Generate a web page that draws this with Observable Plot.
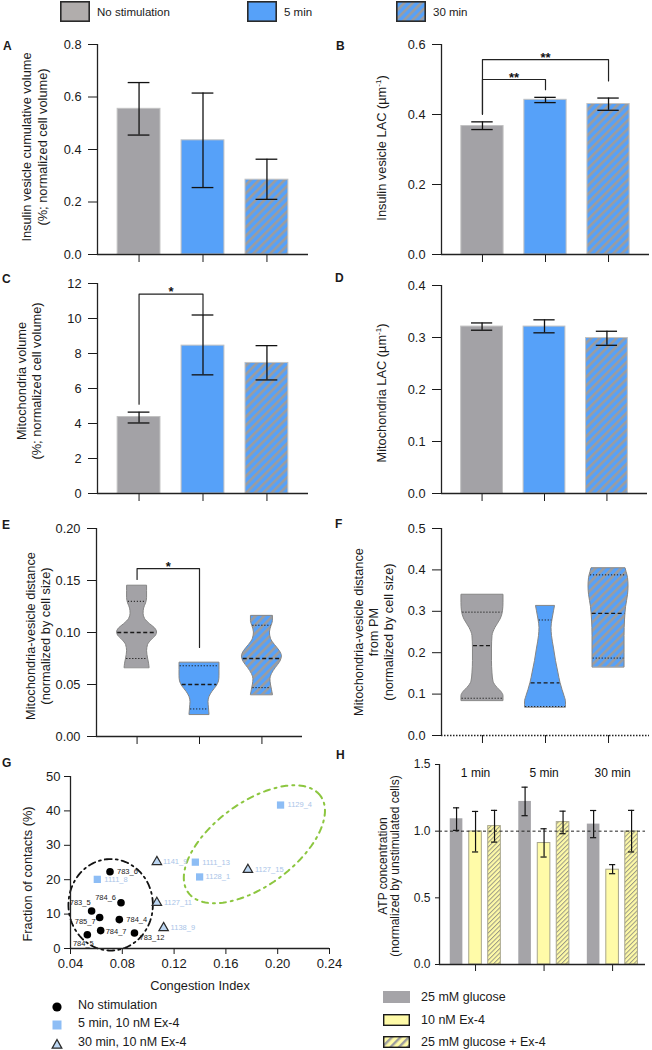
<!DOCTYPE html>
<html>
<head>
<meta charset="utf-8">
<script src="https://cdn.jsdelivr.net/npm/d3@7"></script>
<script src="https://cdn.jsdelivr.net/npm/@observablehq/plot@0.6"></script>
<style>
  body { margin: 0; background: #fff; font-family: "Liberation Sans", Arial, Helvetica, sans-serif; color: #1a1a1a; }
  #fig { position: relative; width: 652px; height: 1050px; overflow: hidden; background: #fff; }
  .ytitle { position: absolute; transform: translate(-50%, -50%) rotate(-90deg); white-space: nowrap; text-align: center; font-size: 12.8px; line-height: 15px; }
  .letter { position: absolute; font-weight: bold; font-size: 12px; line-height: 12px; }
  .txt { position: absolute; white-space: nowrap; line-height: 14px; transform: translateY(-50%); }
  .sw { position: absolute; }
</style>
</head>
<body>
<svg width="0" height="0" style="position:absolute">
  <defs>
    <pattern id="hatchBlue" patternUnits="userSpaceOnUse" width="6" height="6" patternTransform="rotate(45)">
      <rect width="6" height="6" fill="#56a1f9"></rect>
      <rect width="2.6" height="6" fill="#9c9c9e"></rect>
    </pattern>
    <pattern id="hatchYellow" patternUnits="userSpaceOnUse" width="3.2" height="3.2" patternTransform="rotate(45)">
      <rect width="3.2" height="3.2" fill="#fffba8"></rect>
      <rect width="1" height="3.2" fill="#9a9886"></rect>
    </pattern>
    <pattern id="hatchYellowLegend" patternUnits="userSpaceOnUse" width="6" height="6" patternTransform="rotate(45)">
      <rect width="6" height="6" fill="#fffba8"></rect>
      <rect width="2.4" height="6" fill="#9c9c9e"></rect>
    </pattern>
  </defs>
</svg>
<div id="fig"></div>
<script>
// ---------------- DATA ----------------
const groups = ["No stimulation", "5 min", "30 min"];

// A: insulin vesicle cumulative volume (% of cell volume)
const insulinVolMean = [0.555, 0.435, 0.285];
const insulinVolLow  = [0.455, 0.255, 0.210];
const insulinVolHigh = [0.655, 0.615, 0.363];

// B: insulin vesicle LAC (µm-1)
const insulinLacMean = [0.367, 0.442, 0.430];
const insulinLacLow  = [0.357, 0.434, 0.412];
const insulinLacHigh = [0.379, 0.449, 0.447];

// C: mitochondria volume (% of cell volume)
const mitoVolMean = [4.37, 8.45, 7.46];
const mitoVolLow  = [4.03, 6.78, 6.49];
const mitoVolHigh = [4.65, 10.20, 8.45];

// D: mitochondria LAC (µm-1)
const mitoLacMean = [0.321, 0.321, 0.299];
const mitoLacLow  = [0.314, 0.309, 0.285];
const mitoLacHigh = [0.328, 0.334, 0.312];

// significance brackets (category indices, y values)
const sigB = [
  {from: 0, to: 2, top: 0.557, leftEnd: 0.401, rightEnd: 0.496, label: "**"},
  {from: 0, to: 1, top: 0.500, leftEnd: 0.401, rightEnd: 0.471, label: "**"}
];
const sigC = [{from: 0, to: 1, top: 11.39, leftEnd: 5.10, rightEnd: 10.25, label: "*"}];
const sigE = [{from: 0, to: 1, top: 0.1615, leftEnd: 0.151, rightEnd: 0.0856, label: "*"}];

// E: mitochondria-vesicle distance, violin profiles (value, density)
const distE_noStimY  = [0.066, 0.070, 0.075, 0.082, 0.088, 0.093, 0.097, 0.100, 0.104, 0.108, 0.113, 0.118, 0.123, 0.128, 0.133, 0.140, 0.145];
const distE_noStimD  = [12.5, 12, 11, 10, 11, 15, 19, 20, 18, 13, 8, 6.5, 7, 9, 10, 10, 10];
const distE_min5Y    = [0.021, 0.027, 0.033, 0.038, 0.043, 0.048, 0.053, 0.058, 0.064, 0.071];
const distE_min5D    = [10, 9.5, 9, 10, 13, 17, 19.5, 20, 20, 20];
const distE_min30Y   = [0.040, 0.045, 0.050, 0.055, 0.060, 0.066, 0.072, 0.077, 0.082, 0.088, 0.094, 0.100, 0.106, 0.111, 0.116];
const distE_min30D   = [11, 10, 9, 8.5, 10, 14, 18.5, 20, 18, 13, 9, 8, 9.5, 11, 11];
const distE_q1     = [0.075, 0.0265, 0.047];
const distE_median = [0.100, 0.050, 0.075];
const distE_q3     = [0.130, 0.068, 0.107];

// F: mitochondria-vesicle distance from PM, violin profiles
const distF_noStimY  = [0.084, 0.095, 0.105, 0.115, 0.13, 0.15, 0.18, 0.21, 0.24, 0.26, 0.28, 0.30, 0.32, 0.34];
const distF_noStimD  = [21, 21, 19, 15, 11, 10, 9.5, 9.5, 10, 13, 18, 20.5, 21, 21];
const distF_min5Y    = [0.068, 0.08, 0.095, 0.11, 0.127, 0.15, 0.18, 0.21, 0.24, 0.26, 0.28, 0.30, 0.313];
const distF_min5D    = [20.5, 20.5, 19, 17, 15, 13, 10.5, 8.5, 6.5, 6, 7, 8.5, 9.5];
const distF_min30Y   = [0.165, 0.20, 0.24, 0.28, 0.31, 0.34, 0.36, 0.38, 0.395, 0.404];
const distF_min30D   = [16, 16, 16, 16.5, 17.5, 19.5, 20, 19.5, 18, 17];
const distF_q1     = [0.090, 0.070, 0.187];
const distF_median = [0.217, 0.127, 0.295];
const distF_q3     = [0.298, 0.279, 0.388];

// G: congestion index vs fraction of contacts
const noStimIds      = ["783_6", "784_6", "783_5", "785_7", "784_4", "784_7", "784_5", "783_12"];
const noStimCI       = [0.0705, 0.0790, 0.0563, 0.0625, 0.0777, 0.0633, 0.0530, 0.0894];
const noStimContacts = [22.3, 13.3, 10.9, 9.0, 8.4, 5.2, 4.0, 4.5];
const min5Ids        = ["1111_8", "1111_13", "1128_1", "1129_4"];
const min5CI         = [0.0607, 0.1364, 0.1397, 0.2022];
const min5Contacts   = [20.1, 25.1, 20.8, 41.7];
const min30Ids       = ["1141_9", "1127_11", "1138_9", "1127_15"];
const min30CI        = [0.1067, 0.1067, 0.1119, 0.1770];
const min30Contacts  = [25.2, 13.3, 6.0, 22.9];
// cluster ellipses (centre and conjugate semi-axes, data units)
const clusterNoStim = {cx: 0.071, cy: 12.7, a: [0.0326, 0], b: [0, 13.3]};
const clusterStim   = {cx: 0.182, cy: 30.3, a: [0.0509, 14.15], b: [-0.0195, 9.69]};

// H: ATP concentration
const atpTimes = ["1 min", "5 min", "30 min"];
const atpConditions = ["25 mM glucose", "10 nM Ex-4", "25 mM glucose + Ex-4"];
const atpGlucoseMean = [1.093, 1.223, 1.053];
const atpGlucoseLow  = [1.006, 1.116, 0.951];
const atpGlucoseHigh = [1.175, 1.330, 1.155];
const atpEx4Mean     = [0.998, 0.911, 0.711];
const atpEx4Low      = [0.844, 0.806, 0.681];
const atpEx4High     = [1.148, 1.018, 0.749];
const atpBothMean    = [1.038, 1.068, 0.998];
const atpBothLow     = [0.918, 0.981, 0.844];
const atpBothHigh    = [1.156, 1.150, 1.156];

// ---------------- STYLE / HELPERS ----------------
const FONT = "'Liberation Sans', Arial, Helvetica, sans-serif";
const fig = document.getElementById("fig");
const groupFills = ["#a3a2a6", "#56a1f9", "url(#hatchBlue)"];
const BAR_HALF = 0.335, CAP_HALF = 0.17;
const XDOM = [-0.65, 2.65];
const blank = () => "";

function place(el, left, top) {
  el.style.position = "absolute"; el.style.left = left + "px"; el.style.top = top + "px";
  fig.appendChild(el);
  return el;
}
function html(cls, content, left, top, extra) {
  const d = document.createElement("div");
  d.className = cls; d.innerHTML = content;
  d.style.left = left + "px"; d.style.top = top + "px";
  if (extra) Object.assign(d.style, extra);
  fig.appendChild(d);
  return d;
}
function panel(cfg, marks) {
  const svg = Plot.plot({
    width: cfg.w, height: cfg.h,
    marginLeft: cfg.ml, marginRight: cfg.mr, marginTop: cfg.mt, marginBottom: cfg.mb,
    style: {background: "transparent", fontFamily: FONT, fontSize: (cfg.fs || 12.8) + "px", color: "#1a1a1a", overflow: "visible"},
    x: {type: "linear", domain: cfg.xDomain || XDOM, ticks: cfg.xTicks || [0, 1, 2], tickFormat: cfg.xFormat || blank,
        tickSize: cfg.xTickSize ?? 8, tickPadding: cfg.xTickPadding ?? 3, label: null},
    y: {type: "linear", domain: cfg.yDomain, ticks: cfg.yTicks, tickFormat: cfg.yFormat,
        tickSize: cfg.yTickSize ?? 9, tickPadding: cfg.yTickPadding ?? 7, label: null},
    marks
  });
  return place(svg, cfg.left, cfg.top);
}
function axisLines(xDom, y0, xDash) {
  return [
    Plot.ruleX([xDom[0]], {stroke: "#222", strokeWidth: 1.3}),
    Plot.ruleY([y0], {stroke: "#222", strokeWidth: 1.3, strokeDasharray: xDash || null})
  ];
}
function barMarks(mean, low, high) {
  const rows = groups.map((g, i) => ({i, g, mean: mean[i], low: low[i], high: high[i]}));
  const marks = [];
  rows.forEach(r => {
    marks.push(Plot.rect([r], {x1: d => d.i - BAR_HALF, x2: d => d.i + BAR_HALF, y1: 0, y2: "mean",
      fill: groupFills[r.i], stroke: "#c2c2c2", strokeWidth: 1}));
  });
  marks.push(Plot.ruleX(rows, {x: "i", y1: "low", y2: "high", stroke: "#111", strokeWidth: 1.3}));
  marks.push(Plot.ruleY(rows, {y: "low", x1: d => d.i - CAP_HALF, x2: d => d.i + CAP_HALF, stroke: "#111", strokeWidth: 1.3}));
  marks.push(Plot.ruleY(rows, {y: "high", x1: d => d.i - CAP_HALF, x2: d => d.i + CAP_HALF, stroke: "#111", strokeWidth: 1.3}));
  return marks;
}
function sigMarks(sig) {
  const marks = [];
  sig.forEach(s => {
    const pts = [{x: s.from, y: s.leftEnd}, {x: s.from, y: s.top}, {x: s.to, y: s.top}, {x: s.to, y: s.rightEnd}];
    marks.push(Plot.line(pts, {x: "x", y: "y", stroke: "#222", strokeWidth: 1.2}));
    marks.push(Plot.text([s], {x: d => (d.from + d.to) / 2, y: "top", text: "label", lineAnchor: "bottom",
      fontWeight: "bold", fontSize: 13, fill: "#111", dy: 2}));
  });
  return marks;
}
function widthAt(ys, ds, y) {
  if (y <= ys[0]) return ds[0];
  for (let j = 1; j < ys.length; j++) {
    if (y <= ys[j]) { const t = (y - ys[j - 1]) / (ys[j] - ys[j - 1]); return ds[j - 1] + t * (ds[j] - ds[j - 1]); }
  }
  return ds[ds.length - 1];
}
function violinMarks(profiles, q1, med, q3, k) {
  const marks = [];
  profiles.forEach(([ys, ds], i) => {
    const rows = ys.map((y, j) => ({y, x1: i - ds[j] * k, x2: i + ds[j] * k}));
    marks.push(Plot.areaX(rows, {y: "y", x1: "x1", x2: "x2", fill: groupFills[i], stroke: "#858585", strokeWidth: 1, curve: "monotone-y"}));
    const q = [[q1[i], "1.2,1.8", 1], [q3[i], "1.2,1.8", 1], [med[i], "4,2.5", 1.4]].map(([y, dash, sw]) => ({y, dash, sw, w: widthAt(ys, ds, y) * k - 0.01}));
    q.forEach(r => marks.push(Plot.ruleY([r], {y: "y", x1: d => i - d.w, x2: d => i + d.w, stroke: "#1a1a1a", strokeWidth: r.sw, strokeDasharray: r.dash})));
  });
  return marks;
}

// ---------------- TOP LEGEND ----------------
function swatchSvg(fill, w, h, stroke, sw) {
  return `<svg width="${w}" height="${h}" style="display:block"><rect x="${sw/2}" y="${sw/2}" width="${w - sw}" height="${h - sw}" fill="${fill}" stroke="${stroke}" stroke-width="${sw}"></rect></svg>`;
}
const topLegendFills = ["#b1adac", "#56a1f9", "url(#hatchBlue)"];
const topLegendX = [60, 247, 396];
groups.forEach((g, i) => {
  html("sw", swatchSvg(topLegendFills[i], 30, 21, "#2a2a2a", 1.6), topLegendX[i], 1);
  html("txt", g, topLegendX[i] + 37, 12, {fontSize: "11.5px"});
});

// ---------------- PANELS ----------------
// A
panel({left: 0, top: 30, w: 326, h: 240, ml: 97, mr: 18, mt: 14, mb: 16,
  yDomain: [0, 0.8], yTicks: [0, 0.2, 0.4, 0.6, 0.8], yFormat: d3.format(".1f")},
  [...barMarks(insulinVolMean, insulinVolLow, insulinVolHigh), ...axisLines(XDOM, 0)]);
// B
panel({left: 326, top: 30, w: 326, h: 240, ml: 115, mr: 3, mt: 14, mb: 16,
  yDomain: [0, 0.6], yTicks: [0, 0.2, 0.4, 0.6], yFormat: d3.format(".1f")},
  [...barMarks(insulinLacMean, insulinLacLow, insulinLacHigh), ...sigMarks(sigB), ...axisLines(XDOM, 0)]);
// C
panel({left: 0, top: 262, w: 326, h: 246, ml: 97, mr: 18, mt: 21, mb: 15,
  yDomain: [0, 12], yTicks: [0, 2, 4, 6, 8, 10, 12], yFormat: d3.format("d")},
  [...barMarks(mitoVolMean, mitoVolLow, mitoVolHigh), ...sigMarks(sigC), ...axisLines(XDOM, 0)]);
// D
panel({left: 326, top: 262, w: 326, h: 246, ml: 115, mr: 5, mt: 23, mb: 15,
  yDomain: [0, 0.4], yTicks: [0, 0.1, 0.2, 0.3, 0.4], yFormat: d3.format(".1f")},
  [...barMarks(mitoLacMean, mitoLacLow, mitoLacHigh), ...axisLines(XDOM, 0)]);
// E
panel({left: 0, top: 505, w: 326, h: 250, ml: 96, mr: 24, mt: 23, mb: 19,
  yDomain: [0, 0.2], yTicks: [0, 0.05, 0.1, 0.15, 0.2], yFormat: d3.format(".2f")},
  [...violinMarks([[distE_noStimY, distE_noStimD], [distE_min5Y, distE_min5D], [distE_min30Y, distE_min30D]],
     distE_q1, distE_median, distE_q3, 1 / 62.5),
   ...sigMarks(sigE), ...axisLines(XDOM, 0)]);
// F
panel({left: 326, top: 505, w: 326, h: 250, ml: 115, mr: 3, mt: 23, mb: 20,
  yDomain: [0, 0.5], yTicks: [0, 0.1, 0.2, 0.3, 0.4, 0.5], yFormat: d3.format(".1f")},
  [...violinMarks([[distF_noStimY, distF_noStimD], [distF_min5Y, distF_min5D], [distF_min30Y, distF_min30D]],
     distF_q1, distF_median, distF_q3, 1 / 63),
   ...axisLines(XDOM, 0, "1.5,1.5")]);

// G
function ellipsePts(e) {
  const pts = [];
  for (let j = 0; j <= 144; j++) {
    const t = j / 144 * 2 * Math.PI;
    pts.push({x: e.cx + Math.cos(t) * e.a[0] + Math.sin(t) * e.b[0], y: e.cy + Math.cos(t) * e.a[1] + Math.sin(t) * e.b[1]});
  }
  return pts;
}
const noStimRows = noStimIds.map((id, i) => ({id, ci: noStimCI[i], c: noStimContacts[i]}));
const min5Rows = min5Ids.map((id, i) => ({id, ci: min5CI[i], c: min5Contacts[i]}));
const min30Rows = min30Ids.map((id, i) => ({id, ci: min30CI[i], c: min30Contacts[i]}));
// label placement [dx, dy, anchor]
const labelPlacement = {
  "783_6": [7, 0, "start"], "784_6": [-5, -5, "end"], "783_5": [-1, -8, "end"], "785_7": [-4, 4, "end"],
  "784_4": [7, 0, "start"], "784_7": [5, 1, "start"], "784_5": [-4, 9, "middle"], "783_12": [5, 4.5, "start"],
  "1111_8": [7, 0, "start"], "1111_13": [7, 0, "start"], "1128_1": [6, 0, "start"], "1129_4": [7, 0, "start"],
  "1141_9": [6, 0, "start"], "1127_11": [7, 0, "start"], "1138_9": [7, 0, "start"], "1127_15": [7, 0, "start"]
};
const labelMarks = [];
[[noStimRows, "#1a1a1a"], [min5Rows, "#a9c4e8"], [min30Rows, "#a9c4e8"]].forEach(([rows, col]) => {
  rows.forEach(r => {
    const [dx, dy, anchor] = labelPlacement[r.id];
    labelMarks.push(Plot.text([r], {x: "ci", y: "c", text: "id", dx, dy, textAnchor: anchor, fill: col, fontSize: 7.5}));
  });
});
panel({left: 0, top: 760, w: 345, h: 240, ml: 70, mr: 16, mt: 16, mb: 52, fs: 13,
  xDomain: [0.04, 0.24], xTicks: [0.04, 0.08, 0.12, 0.16, 0.20, 0.24], xFormat: d3.format(".2f"), xTickSize: 6, xTickPadding: 4,
  yDomain: [0, 50], yTicks: [0, 10, 20, 30, 40, 50], yFormat: d3.format("d"), yTickSize: 6, yTickPadding: 4},
  [
    Plot.line(ellipsePts(clusterNoStim), {x: "x", y: "y", stroke: "#111", strokeWidth: 1.8, strokeDasharray: "7,4,2,4"}),
    Plot.line(ellipsePts(clusterStim), {x: "x", y: "y", stroke: "#8cc63f", strokeWidth: 2, strokeDasharray: "6,5,2,5"}),
    ...labelMarks,
    Plot.dot(noStimRows, {x: "ci", y: "c", r: 3.8, fill: "#000", stroke: "none"}),
    Plot.dot(min5Rows, {x: "ci", y: "c", r: 4.1, symbol: "square", fill: "#8dbdf5", stroke: "none"}),
    Plot.dot(min30Rows, {x: "ci", y: "c", r: 3.5, symbol: "triangle", fill: "#bcd6f2", stroke: "#2a2a2a", strokeWidth: 1.2}),
    ...axisLines([0.04, 0.24], 0)
  ]);

// H
const H_OFF = 0.277, H_HALF = 0.092, H_CAP = 0.045;
const atpSeries = [
  [atpGlucoseMean, atpGlucoseLow, atpGlucoseHigh, "#a5a4a8", "none"],
  [atpEx4Mean, atpEx4Low, atpEx4High, "#fffba8", "#a8a68c"],
  [atpBothMean, atpBothLow, atpBothHigh, "url(#hatchYellow)", "#a8a68c"]
];
const hMarks = [];
atpSeries.forEach(([m, lo, hi, fill, stroke], c) => {
  const rows = atpTimes.map((t, g) => ({x: g + (c - 1) * H_OFF, mean: m[g], low: lo[g], high: hi[g]}));
  hMarks.push(Plot.rect(rows, {x1: d => d.x - H_HALF, x2: d => d.x + H_HALF, y1: 0, y2: "mean", fill, stroke, strokeWidth: 1}));
  hMarks.push(Plot.ruleX(rows, {x: "x", y1: "low", y2: "high", stroke: "#111", strokeWidth: 1.2}));
  hMarks.push(Plot.ruleY(rows, {y: "low", x1: d => d.x - H_CAP, x2: d => d.x + H_CAP, stroke: "#111", strokeWidth: 1.2}));
  hMarks.push(Plot.ruleY(rows, {y: "high", x1: d => d.x - H_CAP, x2: d => d.x + H_CAP, stroke: "#111", strokeWidth: 1.2}));
});
const H_DOM = [-0.526, 2.48];
panel({left: 326, top: 755, w: 326, h: 225, ml: 113, mr: 7, mt: 9, mb: 16, fs: 12,
  xDomain: H_DOM, xTicks: [0, 1, 2], xFormat: blank, xTickSize: 7,
  yDomain: [0, 1.5], yTicks: [0, 0.5, 1, 1.5], yFormat: d3.format(".1f"), yTickSize: 4, yTickPadding: 5},
  [
    ...hMarks,
    Plot.ruleY([1], {stroke: "#222", strokeWidth: 1, strokeDasharray: "3,2.5"}),
    Plot.text(atpTimes, {x: (d, i) => i, y: 1.433, text: d => d, fontSize: 12, fill: "#111"}),
    ...axisLines(H_DOM, 0)
  ]);

// ---------------- TEXT OVERLAYS ----------------
[["A", 3, 40], ["B", 336, 40], ["C", 2, 273], ["D", 335, 272], ["E", 2, 519], ["F", 335, 518], ["G", 2, 757], ["H", 336, 749]]
  .forEach(([l, x, y]) => html("letter", l, x, y));

html("ytitle", "Insulin vesicle cumulative volume<br>(%; normalized cell volume)", 35, 147, {lineHeight: "16px"});
html("ytitle", "Insulin vesicle LAC (µm<sup style=\"font-size:8px\">-1</sup>)", 380, 148);
html("ytitle", "Mitochondria volume<br>(%; normalized cell volume)", 29, 381);
html("ytitle", "Mitochondria LAC (µm<sup style=\"font-size:8px\">-1</sup>)", 380, 393);
html("ytitle", "Mitochondria-vesicle distance<br>(normalized by cell size)", 37.5, 636);
html("ytitle", "Mitochondria-vesicle distance<br>from PM<br>(normalized by cell size)", 373, 632);
html("ytitle", "Fraction of contacts (%)", 27, 874);
html("ytitle", "ATP concentration<br>(normalized by unstimulated cells)", 389, 866, {fontSize: "12px", lineHeight: "12px"});
html("txt", "Congestion Index", 200, 986, {fontSize: "12.8px", transform: "translate(-50%,-50%)"});

// G legend
const gLegend = [
  [`<svg width="12" height="12"><circle cx="6" cy="6" r="4.6" fill="#000"></circle></svg>`, "No stimulation", 1005],
  [`<svg width="12" height="12"><rect x="1.5" y="1.5" width="9" height="9" fill="#8dbdf5"></rect></svg>`, "5 min, 10 nM Ex-4", 1023],
  [`<svg width="12" height="12"><path d="M6,1.5 L10.8,10.2 L1.2,10.2 Z" fill="#bcd6f2" stroke="#2a2a2a" stroke-width="1.3"></path></svg>`, "30 min, 10 nM Ex-4", 1042]
];
gLegend.forEach(([sym, label, y]) => {
  html("sw", sym, 51, y - 6);
  html("txt", label, 78, y, {fontSize: "12.5px"});
});

// H legend
const hLegendFills = [["#a5a4a8", "none", 0], ["#fffba8", "#1a1a1a", 1.4], ["url(#hatchYellowLegend)", "#1a1a1a", 1.4]];
const hLegendY = [997, 1020, 1042];
atpConditions.forEach((c, i) => {
  const [f, s, w] = hLegendFills[i];
  html("sw", swatchSvg(f, 27, 12, s, w), 383, hLegendY[i] - 6);
  html("txt", c, 421, hLegendY[i], {fontSize: "12.5px"});
});
</script>
</body>
</html>
